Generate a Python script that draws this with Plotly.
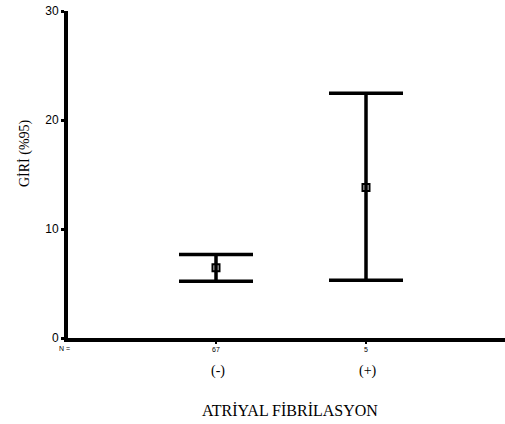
import plotly.graph_objects as go

categories = ["(-)", "(+)"]
n_labels = ["67", "5"]
means = [6.45, 13.8]
upper = [7.65, 22.45]
lower = [5.2, 5.3]

xpos = [1, 2]
err_plus = [u - m for u, m in zip(upper, means)]
err_minus = [m - l for m, l in zip(means, lower)]

W, H = 505, 424
L, R, T, B = 68, 0, 11, 86
pw, ph = W - L - R, H - T - B

def px(xp):
    return (xp - L) / pw

def py(yp):
    return (H - B - yp) / ph

fig = go.Figure()
fig.add_trace(go.Scatter(
    x=xpos, y=means, mode="markers",
    marker=dict(symbol="square-open", size=7, color="black", line=dict(width=2, color="black")),
    error_y=dict(type="data", symmetric=False, array=err_plus, arrayminus=err_minus,
                 color="black", thickness=3.5, width=37),
    showlegend=False, hoverinfo="skip",
))

fig.update_layout(
    width=W, height=H,
    margin=dict(l=L, r=R, t=T, b=B),
    paper_bgcolor="white", plot_bgcolor="white",
    xaxis=dict(range=[0.0133, 2.9267], tickvals=xpos, ticktext=n_labels,
               showline=True, linecolor="black", linewidth=4, showgrid=False, zeroline=False,
               ticks="outside", ticklen=2, tickwidth=2, tickcolor="black",
               tickfont=dict(family="Arial", size=7, color="black")),
    yaxis=dict(range=[0, 30], tickvals=[0, 10, 20, 30],
               showline=True, linecolor="black", linewidth=4, showgrid=False, zeroline=False,
               ticks="outside", ticklen=3, tickwidth=3, tickcolor="black",
               tickfont=dict(family="Arial", size=12, color="black")),
)

fig.add_annotation(x=px(64), y=py(348), xref="paper", yref="paper", text="N =", showarrow=False,
                   xanchor="center", yanchor="middle",
                   font=dict(family="Arial", size=7, color="black"))
for c, xv in zip(categories, xpos):
    fig.add_annotation(x=xv, y=py(371), xref="x", yref="paper", text=c, showarrow=False,
                       xanchor="center", yanchor="middle", xshift=2,
                       font=dict(family="Liberation Serif", size=14, color="black"))
fig.add_annotation(x=px(290), y=py(410), xref="paper", yref="paper", text="ATRİYAL FİBRİLASYON",
                   showarrow=False, xanchor="center", yanchor="middle",
                   font=dict(family="Liberation Serif", size=16, color="black"))
fig.add_annotation(x=px(25), y=py(153), xref="paper", yref="paper", text="GİRİ (%95)",
                   showarrow=False, textangle=-90, xanchor="center", yanchor="middle",
                   font=dict(family="Liberation Serif", size=14, color="black"))

fig.write_html("out.html")
